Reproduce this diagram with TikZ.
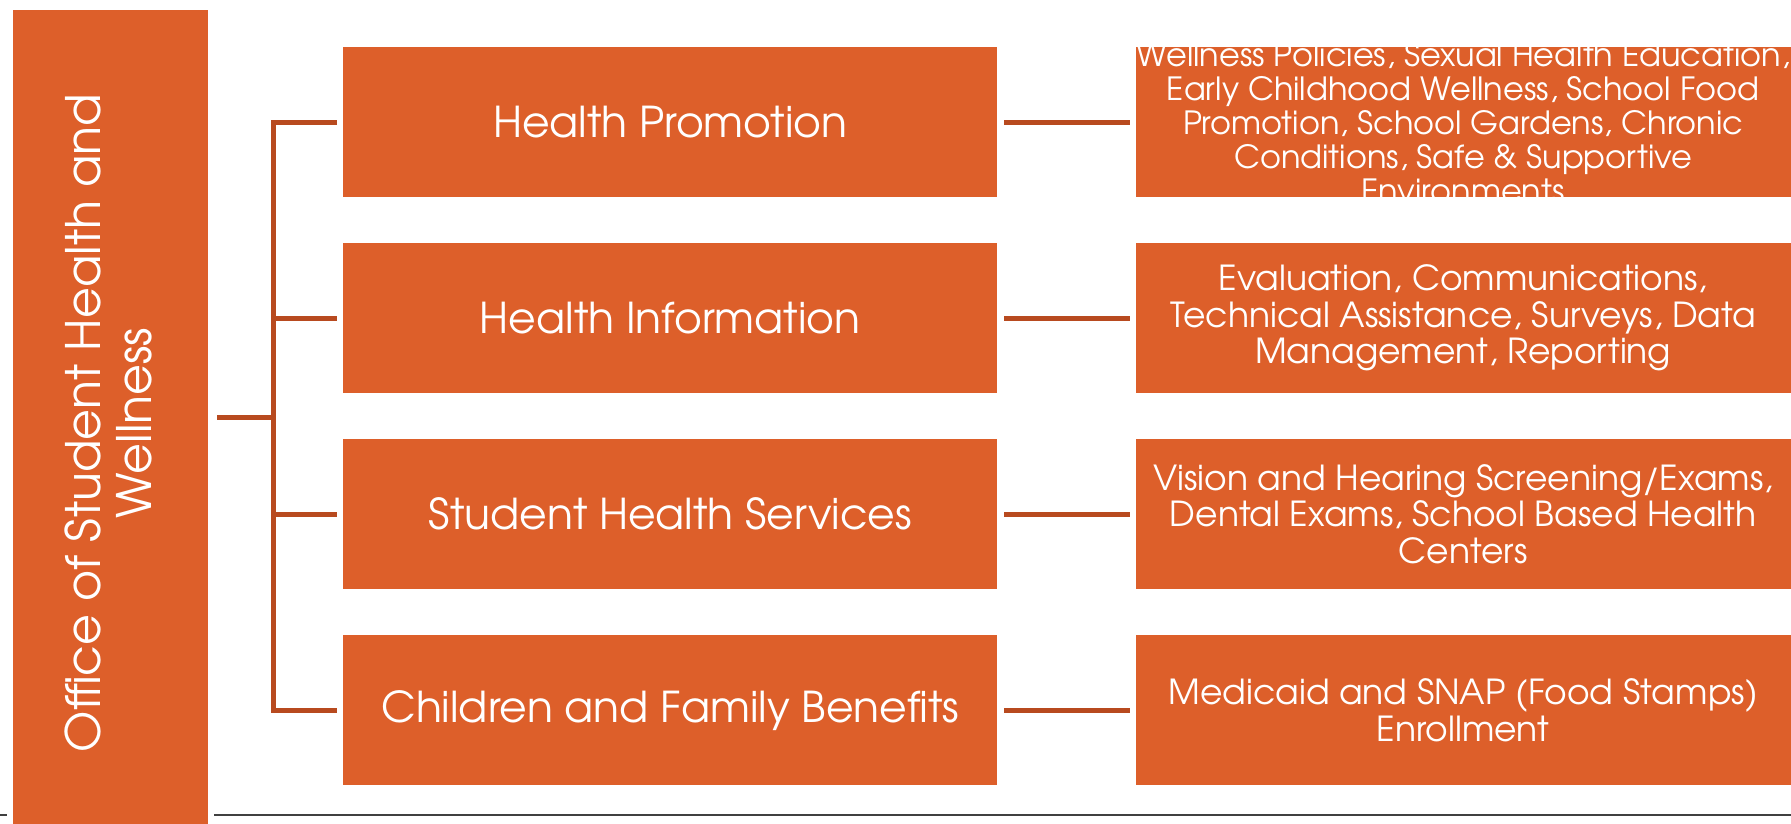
\documentclass[tikz,border=0pt]{standalone}
\usepackage{fontspec}
\setmainfont{texgyreadventor}[Extension=.otf, UprightFont=*-regular]
\definecolor{boxor}{HTML}{DD5F2A}
\definecolor{lineor}{HTML}{B84A1F}
\definecolor{rulegray}{HTML}{404040}
\tikzset{
  obox/.style={fill=boxor, draw=none, text=white, align=center, anchor=north west, inner sep=0pt},
  conn/.style={draw=lineor, line width=5pt},
}
\begin{document}
\begin{tikzpicture}[x=1pt, y=-1pt]
\useasboundingbox (0,0) rectangle (1791,824);
% bottom rule
\draw[rulegray, line width=2pt] (0,815) -- (1791,815);
% left box
\node[obox, draw=white, line width=6pt, minimum width=201pt, minimum height=830pt] (office) at (7,4) {};
\node[text=white, rotate=90, align=center, font=\fontsize{47.5}{51}\selectfont] (officetext) at (108,423) {Office of Student Health and\\Wellness};
% middle boxes
\foreach \i/\y/\t in {1/47/Health Promotion, 2/243/Health Information, 3/439/Student Health Services, 4/635/Children and Family Benefits} {
  \node[obox, minimum width=654pt, minimum height=150pt, font=\fontsize{42.5}{48}\selectfont] (m\i) at (343,\y) {\t};
  \node[obox, minimum width=660pt, minimum height=150pt] (r\i) at (1136,\y) {};
}
% right texts
\begin{scope}[every node/.style={text=white, align=center, font=\fontsize{34.5}{36.5}\selectfont}]
\begin{scope}
\clip (r1.north west) rectangle (r1.south east);
\node[font=\fontsize{32}{34}\selectfont] (t1) at ([xshift=-3pt]r1.center) {Wellness Policies, Sexual Health Education,\\Early Childhood Wellness, School Food\\Promotion, School Gardens, Chronic\\Conditions, Safe \& Supportive\\Environments};
\end{scope}
\node (t2) at ([xshift=-3pt]r2.center) {Evaluation, Communications,\\Technical Assistance, Surveys, Data\\Management, Reporting};
\node (t3) at ([xshift=-3pt]r3.center) {Vision and Hearing Screening/Exams,\\Dental Exams, School Based Health\\Centers};
\node (t4) at ([xshift=-3pt]r4.center) {Medicaid and SNAP (Food Stamps)\\Enrollment};
\end{scope}
% connectors
\coordinate (j) at (273,417);
\draw[conn] ([xshift=3pt]office.east |- j) -- (j);
\draw[conn] ([xshift=-6pt]m1.west) -- (j |- m1.west) -- (j |- m4.west) -- ([xshift=-6pt]m4.west);
\draw[conn] (j |- m2.west) -- ([xshift=-6pt]m2.west);
\draw[conn] (j |- m3.west) -- ([xshift=-6pt]m3.west);
\foreach \i in {1,2,3,4} {
  \draw[conn] ([xshift=7pt]m\i.east) -- ([xshift=-6pt]r\i.west);
}
\end{tikzpicture}
\end{document}
